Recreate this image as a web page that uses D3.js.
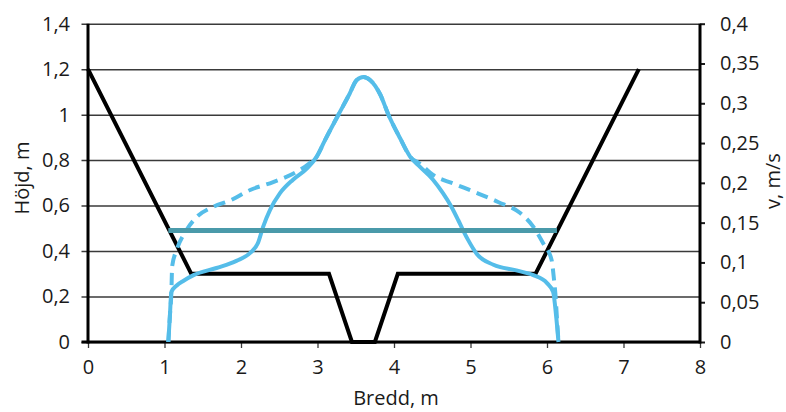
<!DOCTYPE html>
<html>
<head>
<meta charset="utf-8">
<script src="https://cdn.jsdelivr.net/npm/d3@7"></script>
<style>
  html, body { margin: 0; padding: 0; background: #fff; }
  svg { display: block; }
  text { font-family: "Open Sans", "Noto Sans", sans-serif; fill: #1a1a1a; }
</style>
</head>
<body>
<svg id="chart" width="786" height="412"></svg>
<script>
// Channel cross-section (left axis, height in m)
const sectionX = [0, 1.35, 3.15, 3.45, 3.75, 4.05, 5.85, 7.2];
const sectionY = [1.2, 0.3, 0.3, 0, 0, 0.3, 0.3, 1.2];

// Water surface (left axis)
const waterLevel = 0.49;
const waterFrom = 1.05;
const waterTo = 6.13;

// Velocity profile, solid (right axis, m/s)
const velSolidX = [1.05, 1.07, 1.09, 1.16, 1.25, 1.38, 1.68, 1.94, 2.12, 2.22, 2.29, 2.38, 2.51, 2.68, 2.86, 2.99, 3.10, 3.27, 3.42, 3.51, 3.60, 3.69, 3.82, 3.93, 4.08, 4.21, 4.34, 4.51, 4.64, 4.75, 4.84, 4.90, 4.97, 5.08, 5.30, 5.60, 5.82, 6.00, 6.08, 6.12, 6.15];
const velSolidV = [0, 0.032, 0.063, 0.071, 0.077, 0.084, 0.093, 0.102, 0.112, 0.124, 0.145, 0.166, 0.187, 0.204, 0.218, 0.233, 0.254, 0.285, 0.312, 0.329, 0.333, 0.329, 0.311, 0.285, 0.256, 0.233, 0.220, 0.204, 0.187, 0.170, 0.153, 0.141, 0.128, 0.111, 0.097, 0.090, 0.084, 0.074, 0.063, 0.032, 0];

// Velocity profile, dashed (right axis, m/s)
const velDashX = [1.05, 1.07, 1.09, 1.10, 1.16, 1.29, 1.42, 1.64, 1.86, 2.12, 2.42, 2.73, 2.90, 2.99, 3.10, 3.27, 3.42, 3.51, 3.60, 3.69, 3.82, 3.93, 4.08, 4.21, 4.34, 4.51, 4.78, 5.04, 5.36, 5.65, 5.82, 5.95, 6.06, 6.09, 6.11, 6.13, 6.15];
const velDashV = [0, 0.032, 0.063, 0.095, 0.116, 0.141, 0.157, 0.170, 0.178, 0.191, 0.201, 0.214, 0.225, 0.233, 0.254, 0.285, 0.312, 0.329, 0.333, 0.329, 0.311, 0.285, 0.256, 0.233, 0.224, 0.210, 0.199, 0.189, 0.176, 0.162, 0.145, 0.124, 0.103, 0.080, 0.060, 0.030, 0];

// Tick values
const xTicks = [0, 1, 2, 3, 4, 5, 6, 7, 8];
const leftTicks = [0, 0.2, 0.4, 0.6, 0.8, 1, 1.2, 1.4];
const rightTicks = [0, 0.05, 0.1, 0.15, 0.2, 0.25, 0.3, 0.35, 0.4];

// Axis titles
const xTitle = "Bredd, m";
const leftTitle = "Höjd, m";
const rightTitle = "v, m/s";

const svg = d3.select("#chart");
const plotL = 88, plotR = 700, plotT = 23.7, plotB = 342;

const x = d3.scaleLinear().domain([0, 8]).range([plotL, plotR]);
const yL = d3.scaleLinear().domain([0, 1.4]).range([plotB, plotT]);
const yR = d3.scaleLinear().domain([0, 0.4]).range([plotB, plotT]);

const sv = d3.formatLocale({ decimal: ",", thousands: " ", grouping: [3], currency: ["", " kr"] });
const fmt = sv.format("~g");

const FS = 20;

// Left axis with gridlines
const gL = svg.append("g")
  .attr("transform", `translate(${plotL},0)`)
  .call(d3.axisLeft(yL).tickValues(leftTicks).tickFormat(fmt)
    .tickSizeInner(-(plotR - plotL)).tickSizeOuter(0).tickPadding(18));
gL.select(".domain").remove();
gL.selectAll(".tick line").attr("x1", -6.5).attr("stroke", "#3a3a3a").attr("stroke-width", 1.5);
gL.selectAll(".tick text").attr("font-size", FS).attr("font-family", "Open Sans").attr("fill", "#1a1a1a");

// Bottom axis
const gB = svg.append("g")
  .attr("transform", `translate(0,${plotB})`)
  .call(d3.axisBottom(x).tickValues(xTicks).tickFormat(fmt)
    .tickSizeInner(6).tickSizeOuter(0).tickPadding(12));
gB.select(".domain").remove();
gB.selectAll(".tick line").attr("stroke", "#3a3a3a").attr("stroke-width", 1.3);
gB.selectAll(".tick text").attr("font-size", FS).attr("font-family", "Open Sans").attr("fill", "#1a1a1a");

// Right axis
const gR = svg.append("g")
  .attr("transform", `translate(${plotR},0)`)
  .call(d3.axisRight(yR).tickValues(rightTicks).tickFormat(fmt)
    .tickSizeInner(5).tickSizeOuter(0).tickPadding(15));
gR.select(".domain").remove();
gR.selectAll(".tick line").attr("stroke", "#1a1a1a").attr("stroke-width", 2);
gR.selectAll(".tick text").attr("font-size", FS).attr("font-family", "Open Sans").attr("fill", "#1a1a1a");

// Axis lines
const axisG = svg.append("g").attr("stroke", "#000").attr("stroke-width", 3);
axisG.append("line").attr("x1", plotL).attr("x2", plotL).attr("y1", plotT).attr("y2", plotB + 1.5);
axisG.append("line").attr("x1", plotR).attr("x2", plotR).attr("y1", plotT).attr("y2", plotB + 1.5);
axisG.append("line").attr("x1", plotL - 6.5).attr("x2", plotR).attr("y1", plotB).attr("y2", plotB);

// Titles
svg.append("text").attr("x", 396).attr("y", 405).attr("text-anchor", "middle")
  .attr("font-size", FS).text(xTitle);
svg.append("text").attr("transform", "translate(29,178) rotate(-90)").attr("text-anchor", "middle")
  .attr("font-size", FS).text(leftTitle);
svg.append("text").attr("transform", "translate(780,181) rotate(-90)").attr("text-anchor", "middle")
  .attr("font-size", FS).text(rightTitle);

// Shadow under the water surface
const defs = svg.append("defs");
defs.append("filter").attr("id", "soft").attr("x", "-5%").attr("y", "-200%").attr("width", "110%").attr("height", "500%")
  .append("feGaussianBlur").attr("stdDeviation", 2.2);
svg.append("line")
  .attr("x1", x(waterFrom) + 3).attr("x2", x(waterTo) + 1)
  .attr("y1", yL(waterLevel) + 5.5).attr("y2", yL(waterLevel) + 5.5)
  .attr("stroke", "#7a7a7a").attr("stroke-width", 6).attr("opacity", 0.75)
  .attr("filter", "url(#soft)");

// Cross-section
const sectionLine = d3.line().x(d => x(d[0])).y(d => yL(d[1]));
svg.append("path")
  .datum(d3.zip(sectionX, sectionY))
  .attr("d", sectionLine)
  .attr("fill", "none").attr("stroke", "#000").attr("stroke-width", 4)
  .attr("stroke-linejoin", "miter");

// Velocity profiles
const velLine = d3.line().x(d => x(d[0])).y(d => yR(d[1])).curve(d3.curveMonotoneX);
const cyan = "#55bde9";
svg.append("path")
  .datum(d3.zip(velDashX, velDashV))
  .attr("d", velLine)
  .attr("fill", "none").attr("stroke", cyan).attr("stroke-width", 4)
  .attr("stroke-dasharray", "12,7");
svg.append("path")
  .datum(d3.zip(velSolidX, velSolidV))
  .attr("d", velLine)
  .attr("fill", "none").attr("stroke", cyan).attr("stroke-width", 4)
  .attr("stroke-linejoin", "round");

// Water surface
svg.append("line")
  .attr("x1", x(waterFrom)).attr("x2", x(waterTo))
  .attr("y1", yL(waterLevel)).attr("y2", yL(waterLevel))
  .attr("stroke", "#4a9aaa").attr("stroke-width", 5);
</script>
</body>
</html>
